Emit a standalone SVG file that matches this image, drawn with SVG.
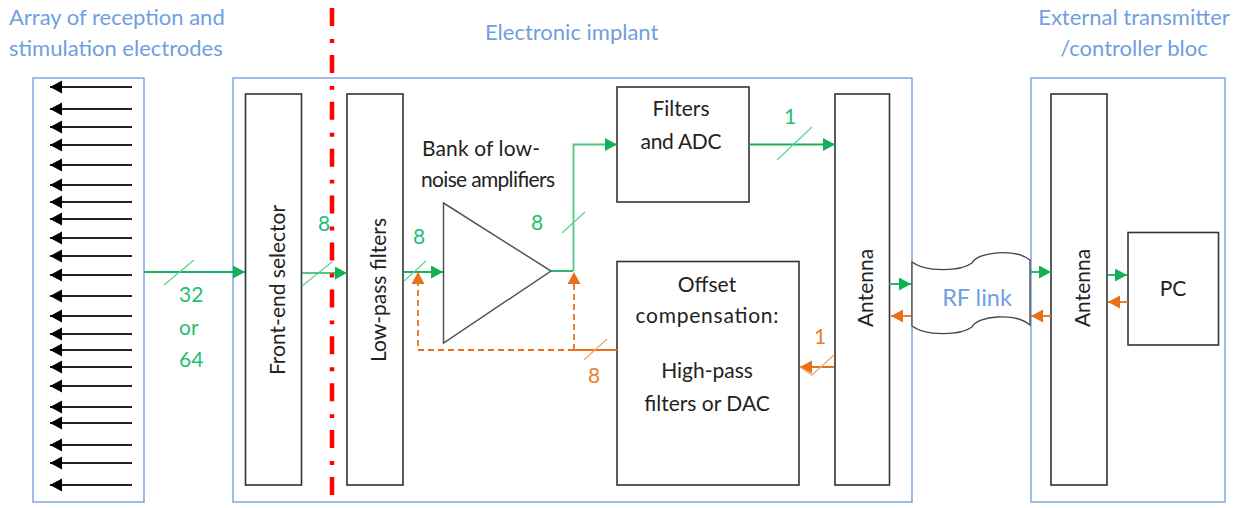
<svg xmlns="http://www.w3.org/2000/svg" width="1240" height="508" viewBox="0 0 1240 508">
<style>
text{font-family:Lato,"Liberation Sans",sans-serif;font-size:21px;fill:#222}
.b{fill:#6f9fe0;font-size:22px}
.g{fill:#1fc073}
.o{fill:#ed7d31}
.box{fill:#fff;stroke:#333;stroke-width:1.6}
.blue{fill:#fff;stroke:#7ea6e0;stroke-width:1.5}
.k{stroke:#222;stroke-width:1.8;fill:none;marker-end:url(#ak)}
.gl{stroke:#19b05f;stroke-width:1.8;fill:none}
.ga{marker-end:url(#ag)}
.ol{stroke:#e8701a;stroke-width:1.8;fill:none}
.oa{marker-end:url(#ao)}
.sg{stroke:#5fcf95;stroke-width:1.2;fill:none}
.so{stroke:#f2a36c;stroke-width:1.2;fill:none}
</style>
<defs>
<marker id="ak" markerUnits="userSpaceOnUse" markerWidth="13" markerHeight="14" refX="12" refY="6.5" orient="auto"><path d="M0 0L12 6.500 0 13Z" fill="#000"/></marker>
<marker id="ag" markerUnits="userSpaceOnUse" markerWidth="13" markerHeight="14" refX="12" refY="6.500" orient="auto"><path d="M0 0L12 6.500 0 13Z" fill="#12b058"/></marker>
<marker id="ao" markerUnits="userSpaceOnUse" markerWidth="13" markerHeight="14" refX="12" refY="6.500" orient="auto"><path d="M0 0L12 6.500 0 13Z" fill="#e8701a"/></marker>
</defs>
<g id="electrode-array"><rect class="blue" x="33" y="78" width="111" height="424"/>
<text class="b" x="9" y="25">Array of reception and</text><text class="b" x="9" y="56">stimulation electrodes</text></g>
<g id="implant"><rect class="blue" x="233" y="78" width="679" height="424"/>
<text class="b" x="485" y="40">Electronic implant</text></g>
<g id="external"><rect class="blue" x="1031" y="78" width="194" height="424"/>
<text class="b" x="1134" y="25" text-anchor="middle">External transmitter</text><text class="b" x="1134" y="56" text-anchor="middle">/controller bloc</text></g>
<g id="electrodes">
<path class="k" d="M132 87H50"/><path class="k" d="M132 109H50"/><path class="k" d="M132 127H50"/><path class="k" d="M132 145H50"/><path class="k" d="M132 165H50"/><path class="k" d="M132 185H50"/><path class="k" d="M132 202H50"/><path class="k" d="M132 219H50"/><path class="k" d="M132 238H50"/><path class="k" d="M132 256H50"/><path class="k" d="M132 275H50"/><path class="k" d="M132 296H50"/><path class="k" d="M132 316H50"/><path class="k" d="M132 334H50"/><path class="k" d="M132 350H50"/><path class="k" d="M132 367H50"/><path class="k" d="M132 386H50"/><path class="k" d="M132 407H50"/><path class="k" d="M132 423H50"/><path class="k" d="M132 445H50"/><path class="k" d="M132 463H50"/><path class="k" d="M132 485H50"/>
</g>
<g id="front-end"><rect class="box" x="245.500" y="94" width="56" height="391"/><text transform="translate(285 290) rotate(-90)" text-anchor="middle">Front-end selector</text></g>
<g id="low-pass"><rect class="box" x="347" y="94" width="56" height="391"/><text transform="translate(386 290) rotate(-90)" text-anchor="middle">Low-pass filters</text></g>
<g id="amplifier"><path d="M443.500 203L551 271 443.500 343Z" fill="#fff" stroke="#555" stroke-width="1.500"/>
<text x="481" y="156" text-anchor="middle" textLength="118">Bank of low-</text><text x="488" y="187" text-anchor="middle" textLength="134">noise amplifiers</text></g>
<g id="filters-adc"><rect class="box" x="617" y="87" width="132" height="115"/><text x="681" y="116" text-anchor="middle">Filters</text><text x="681" y="149" text-anchor="middle" textLength="81">and ADC</text></g>
<g id="offset"><rect class="box" x="617" y="261.500" width="182" height="223.500"/><text x="707" y="292" text-anchor="middle">Offset</text><text x="707" y="323" text-anchor="middle" textLength="143">compensation:</text><text x="707" y="378" text-anchor="middle">High-pass</text><text x="707" y="411" text-anchor="middle">filters or DAC</text></g>
<g id="antenna-implant"><rect class="box" x="835" y="94" width="54.500" height="391"/><text transform="translate(873 288) rotate(-90)" text-anchor="middle">Antenna</text></g>
<g id="rf-link"><path d="M912 262C925 272 960 272 972 263 977 252 1015 248 1030 260V325C1015 312 977 316 972 327 960 336 925 336 912 326Z" fill="#fff" stroke="#444" stroke-width="1.300"/>
<text class="b" x="977" y="306" text-anchor="middle" style="font-size:23.5px">RF link</text></g>
<g id="antenna-external"><rect class="box" x="1051" y="94" width="56" height="391"/><text transform="translate(1090 288) rotate(-90)" text-anchor="middle">Antenna</text></g>
<g id="pc"><rect class="box" x="1128" y="232.500" width="90.500" height="112.500"/><text x="1173" y="296" text-anchor="middle">PC</text></g>
<g id="connectors">
<path class="gl ga" d="M144 272H245"/>
<path class="sg" d="M164 285L194 260"/>
<path class="gl ga" d="M302 273H347" stroke-opacity=".75"/>
<path class="sg" d="M302 286L332 262"/>
<path class="gl ga" d="M403 272H443"/>
<path class="sg" d="M404 281L426 261"/>
<path class="gl" d="M551 271H573"/>
<path class="gl ga" d="M573.500 271V144.500H617" stroke-opacity=".75"/>
<path class="sg" d="M562 233L585 212"/>
<path class="gl ga" d="M749 144.500H835"/>
<path class="sg" d="M777 160L812 127"/>
<path class="gl ga" d="M889 284H911"/>
<path class="gl ga" d="M1030 272H1051"/>
<path class="gl ga" d="M1107 275H1127"/>
<path class="ol oa" d="M911 316H891"/>
<path class="ol oa" d="M1051 316H1031"/>
<path class="ol oa" d="M1128 302H1108"/>
<path class="ol oa" d="M834 367H800"/>
<path class="so" d="M834 355L812 375 800 367"/>
<path class="ol" d="M617 350H574"/>
<path class="ol oa" stroke-dasharray="6 4" d="M574 350V272"/>
<path class="ol oa" stroke-dasharray="6 4" d="M574 350H418V272"/>
<path class="so" d="M584 360L607 339"/>
</g>
<g id="labels">
<text class="g" x="179" y="302">32</text><text class="g" x="179" y="335">or</text><text class="g" x="179" y="367">64</text>
<text class="g" x="318" y="231">8</text><text class="g" x="413" y="244">8</text><text class="g" x="531" y="230">8</text><text class="g" x="784" y="124">1</text>
<text class="o" x="814" y="344">1</text><text class="o" x="588" y="383">8</text>
</g>
<path id="cut-line" d="M332 8V508" stroke="#f00" stroke-width="4.500" stroke-dasharray="18 13 3.900 12" fill="none"/>
</svg>
